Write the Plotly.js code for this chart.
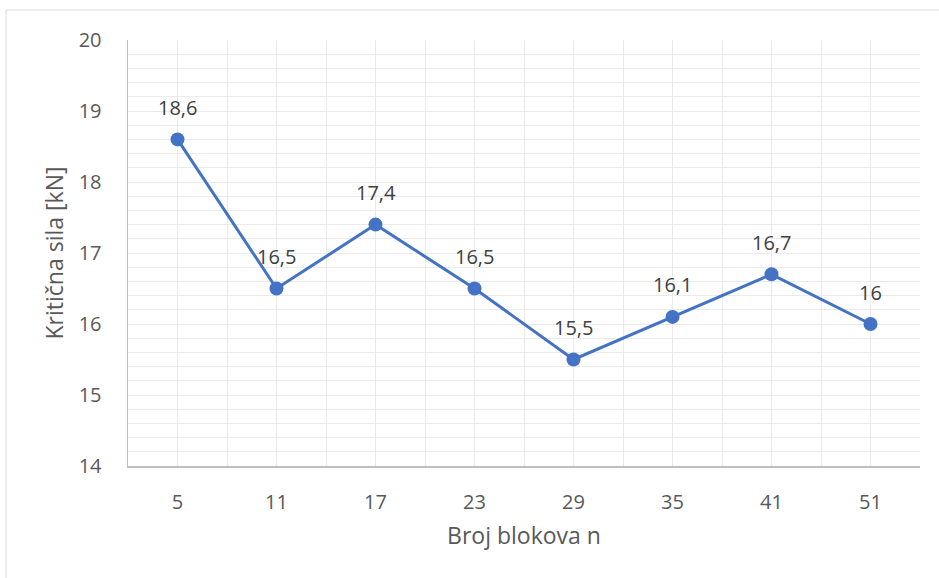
<!DOCTYPE html>
<html><head><meta charset="utf-8">
<script src="https://cdn.plot.ly/plotly-3.0.1.min.js"></script>
<style>html,body{margin:0;padding:0;background:#fff}#c{width:939px;height:578px}</style>
</head><body><div id="c"></div>
<script>
const categories = ["5","11","17","23","29","35","41","51"];
const values = [18.6, 16.5, 17.4, 16.5, 15.5, 16.1, 16.7, 16.0];
const yTicks = [14,15,16,17,18,19,20];

const xIdx = categories.map((c,i)=>i);
const FONT = "'Open Sans', Lato, sans-serif";
const TXT = "#595959";

const trace = {
  x: xIdx, y: values, type: "scatter", mode: "lines+markers",
  line: {color: "#4472C4", width: 3},
  marker: {color: "#4472C4", size: 14},
  hoverinfo: "skip"
};

const annotations = values.map((v,i)=>({
  x: xIdx[i], y: v, xref: "x", yref: "y",
  text: String(v).replace(".", ","), showarrow: false,
  yshift: 32, font: {family: FONT, size: 20, color: "#404040"}
}));

const L=128, R=920, T=40, B=466, W=939, H=578;
const pw=R-L, ph=B-T;
const shapes = [{
  type: "rect", xref: "paper", yref: "paper", layer: "below",
  x0: (6-L)/pw, x1: (W+5-L)/pw, y0: (B-(H+5))/ph, y1: 1+(T-10)/ph,
  line: {color: "#d9d9d9", width: 1}, fillcolor: "rgba(0,0,0,0)"
}];

const layout = {
  width: W, height: H,
  margin: {l: L, r: W-R, t: T, b: H-B},
  paper_bgcolor: "#fff", plot_bgcolor: "#fff",
  showlegend: false,
  font: {family: FONT, color: TXT},
  xaxis: {
    range: [-0.5, categories.length-0.5],
    tickmode: "array", tickvals: xIdx, ticktext: categories,
    showgrid: true, gridcolor: "#ebebeb", gridwidth: 1,
    minor: {tick0: -0.5, dtick: 1, showgrid: true, gridcolor: "#ebebeb", gridwidth: 1},
    showline: true, linecolor: "#bfbfbf", linewidth: 1.5,
    ticks: "", ticklabelstandoff: 17, zeroline: false,
    tickfont: {family: FONT, size: 20, color: TXT},
    title: {text: "Broj blokova n", standoff: 14, font: {family: FONT, size: 23, color: TXT}}
  },
  yaxis: {
    range: [14, 20], tickmode: "array", tickvals: yTicks,
    showgrid: true, gridcolor: "#ebebeb", gridwidth: 1,
    minor: {dtick: 0.2, tick0: 14, showgrid: true, gridcolor: "#ebebeb", gridwidth: 1},
    showline: true, linecolor: "#bfbfbf", linewidth: 1.5,
    ticks: "", ticklabelstandoff: 21, zeroline: false,
    tickfont: {family: FONT, size: 20, color: TXT},
    title: {text: "Kritična sila [kN]", standoff: 8, font: {family: FONT, size: 23, color: TXT}}
  },
  annotations: annotations,
  shapes: shapes
};
Plotly.newPlot("c", [trace], layout, {displayModeBar: false, staticPlot: true});
</script></body></html>
